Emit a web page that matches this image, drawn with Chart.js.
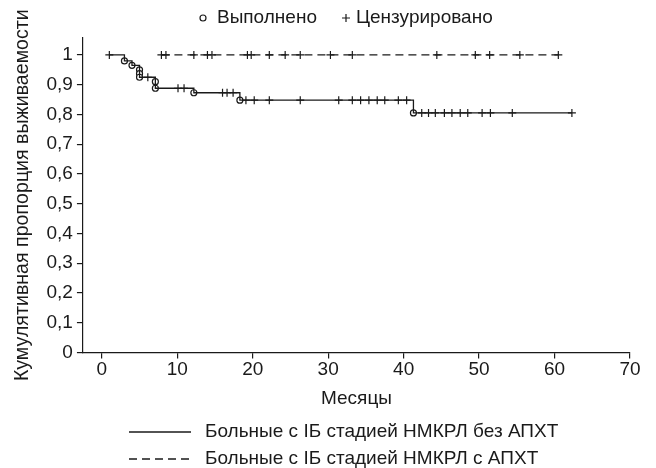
<!DOCTYPE html>
<html>
<head>
<meta charset="utf-8">
<script src="https://cdn.jsdelivr.net/npm/chart.js@4"></script>
<style>
  body { margin: 0; background: #fff; }
  #wrap { width: 656px; height: 468px; }
</style>
</head>
<body>
<div id="wrap"><canvas id="survChart" width="656" height="468"></canvas></div>
<script>
// tick labels
const xTicks = [0, 10, 20, 30, 40, 50, 60, 70];
const yTicks = [0, 0.1, 0.2, 0.3, 0.4, 0.5, 0.6, 0.7, 0.8, 0.9, 1];

// Больные без АПХТ: старт, события (выполнено) и цензурированные
const startA = [1, 1];
const eventTimesA = [3, 4, 5, 5, 5, 7.1, 7.1, 12.2, 18.3, 41.3];
const eventSurvA = [0.98, 0.965, 0.95, 0.937, 0.925, 0.91, 0.888, 0.873, 0.848, 0.805];
const censorTimesA = [1, 6.1, 10.1, 10.9, 16.0, 16.6, 17.4, 19.1, 20.2, 22.2, 26.3, 31.4, 33.2, 34.3,
  35.4, 36.5, 37.5, 39.3, 40.4, 42.4, 43.3, 44.2, 45.4, 46.4, 47.5, 48.5, 50.4, 51.5, 54.4, 62.3];

// Больные с АПХТ: событий нет, только цензурированные
const survB = 1;
const censorTimesB = [7.9, 8.5, 12.2, 14.0, 14.6, 19.3, 19.8, 22.2, 24.3, 26.3, 30.3, 33.2,
  44.4, 49.5, 51.4, 55.4, 60.5];

const labelA = 'Больные с IБ стадией НМКРЛ без АПХТ';
const labelB = 'Больные с IБ стадией НМКРЛ с АПХТ';
const ink = '#1a1a1a';
const fontFamily = '"Liberation Sans", Arial, sans-serif';
const fontSize = 19;

// value of the step curve at time t
function survAt(t) {
  let s = startA[1];
  eventTimesA.forEach((et, i) => { if (et <= t) s = eventSurvA[i]; });
  return s;
}

const lastA = censorTimesA[censorTimesA.length - 1];
const curveA = [{ x: startA[0], y: startA[1] }]
  .concat(eventTimesA.map((t, i) => ({ x: t, y: eventSurvA[i] })))
  .concat([{ x: lastA, y: survAt(lastA) }]);
const curveB = [
  { x: censorTimesB[0], y: survB },
  { x: censorTimesB[censorTimesB.length - 1], y: survB }
];

const keyPlugin = {
  id: 'keys',
  afterDraw(chart) {
    const ctx = chart.ctx;
    ctx.save();
    ctx.fillStyle = ink;
    ctx.strokeStyle = ink;
    ctx.lineWidth = 1.2;
    ctx.font = fontSize + 'px ' + fontFamily;
    ctx.textBaseline = 'middle';

    // top key
    ctx.beginPath();
    ctx.arc(203, 18, 3, 0, Math.PI * 2);
    ctx.stroke();
    ctx.fillText('Выполнено', 217, 18);
    ctx.beginPath();
    ctx.moveTo(342, 18); ctx.lineTo(350, 18);
    ctx.moveTo(346, 14); ctx.lineTo(346, 22);
    ctx.stroke();
    ctx.fillText('Цензурировано', 356, 18);

    // bottom key
    ctx.lineWidth = 1.5;
    ctx.beginPath();
    ctx.moveTo(129, 432); ctx.lineTo(191, 432);
    ctx.stroke();
    ctx.fillText(labelA, 205, 432);
    ctx.setLineDash([8, 5]);
    ctx.beginPath();
    ctx.moveTo(129, 459); ctx.lineTo(191, 459);
    ctx.stroke();
    ctx.setLineDash([]);
    ctx.fillText(labelB, 205, 459);
    ctx.restore();
  }
};

const ctx = document.getElementById('survChart').getContext('2d');
new Chart(ctx, {
  type: 'scatter',
  data: {
    datasets: [
      {
        label: labelA,
        type: 'line',
        data: curveA,
        stepped: true,
        borderColor: ink,
        borderWidth: 1.3,
        pointRadius: 0,
        fill: false
      },
      {
        label: labelB,
        type: 'line',
        data: curveB,
        borderColor: ink,
        borderWidth: 1.3,
        borderDash: [8, 5],
        pointRadius: 0,
        fill: false
      },
      {
        label: 'Цензурировано',
        data: censorTimesA.map(t => ({ x: t, y: survAt(t) })),
        pointStyle: 'cross',
        pointRadius: 4,
        borderColor: ink,
        borderWidth: 1.2
      },
      {
        label: 'Цензурировано',
        data: censorTimesB.map(t => ({ x: t, y: survB })),
        pointStyle: 'cross',
        pointRadius: 4,
        borderColor: ink,
        borderWidth: 1.2
      },
      {
        label: 'Выполнено',
        data: eventTimesA.map((t, i) => ({ x: t, y: eventSurvA[i] })),
        pointStyle: 'circle',
        pointRadius: 3,
        backgroundColor: '#fff',
        borderColor: ink,
        borderWidth: 1.2
      }
    ]
  },
  options: {
    responsive: false,
    animation: false,
    events: [],
    layout: { padding: { top: 38, right: 26, bottom: 54, left: 7 } },
    plugins: {
      legend: { display: false },
      tooltip: { enabled: false }
    },
    scales: {
      x: {
        type: 'linear',
        min: -2.5,
        max: 70,
        afterBuildTicks: scale => { scale.ticks = xTicks.map(v => ({ value: v })); },
        border: { color: ink, width: 1.2 },
        grid: { drawOnChartArea: false, color: ink, tickLength: 6, lineWidth: 1.2 },
        ticks: { color: ink, font: { family: fontFamily, size: fontSize }, padding: 0, maxRotation: 0 },
        title: { display: true, text: 'Месяцы', color: ink, font: { family: fontFamily, size: fontSize }, padding: { top: 6 } }
      },
      y: {
        min: 0,
        max: 1.057,
        afterBuildTicks: scale => { scale.ticks = yTicks.map(v => ({ value: v })); },
        border: { color: ink, width: 1.2 },
        grid: { drawOnChartArea: false, color: ink, tickLength: 6, lineWidth: 1.2 },
        ticks: {
          color: ink,
          font: { family: fontFamily, size: fontSize },
          padding: 4,
          callback: v => String(Math.round(v * 10) / 10).replace('.', ',')
        },
        title: { display: true, text: 'Кумулятивная пропорция выживаемости', color: ink, font: { family: fontFamily, size: 19.6 }, padding: { bottom: 8 } }
      }
    }
  },
  plugins: [keyPlugin]
});
</script>
</body>
</html>
